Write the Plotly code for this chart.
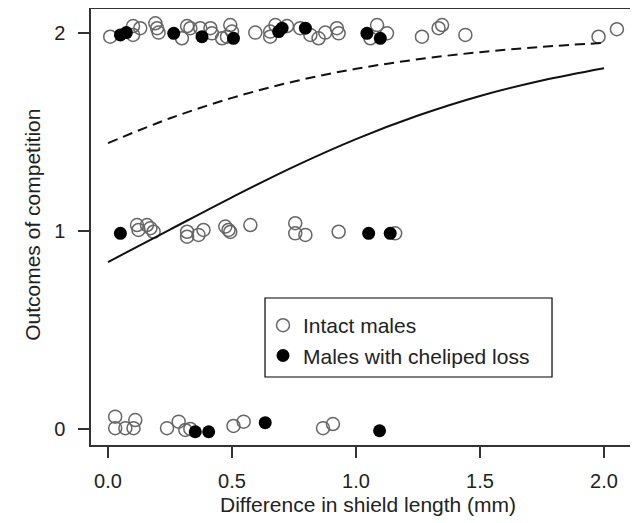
import plotly.graph_objects as go

# Observed outcomes (0, 1, 2) vs difference in shield length, with slight vertical jitter
intact_x = [0.009, 0.101, 0.130, 0.101, 0.198, 0.204, 0.191, 0.298, 0.319, 0.332,
            0.372, 0.413, 0.419, 0.460, 0.493, 0.500, 0.480, 0.594, 0.654, 0.675,
            0.722, 0.654, 0.775, 0.816, 0.849, 0.876, 0.923, 0.930, 1.085, 1.125,
            1.058, 1.266, 1.333, 1.347, 1.441, 1.978, 2.052,
            0.117, 0.123, 0.157, 0.171, 0.184, 0.319, 0.319, 0.365, 0.385, 0.473,
            0.486, 0.493, 0.574, 0.755, 0.755, 0.796, 0.930, 1.158,
            0.029, 0.029, 0.070, 0.103, 0.110, 0.238, 0.285, 0.312, 0.332, 0.506,
            0.547, 0.867, 0.907]
intact_y = [1.981, 2.035, 2.024, 1.990, 2.024, 2.002, 2.049, 1.973, 2.035, 2.024,
            2.024, 2.024, 1.998, 1.973, 2.040, 2.007, 1.981, 2.002, 2.007, 2.040,
            2.035, 1.981, 2.024, 1.990, 1.973, 2.002, 2.024, 1.998, 2.040, 1.998,
            1.973, 1.981, 2.024, 2.040, 1.990, 1.981, 2.019,
            1.030, 1.005, 1.030, 1.014, 0.996, 0.996, 0.971, 0.980, 1.005, 1.022,
            1.005, 0.995, 1.030, 1.039, 0.988, 0.980, 0.996, 0.988,
            0.062, 0.004, 0.004, 0.004, 0.045, 0.004, 0.037, -0.005, 0.000, 0.015,
            0.037, 0.004, 0.025]

loss_x = [0.050, 0.074, 0.265, 0.379, 0.506, 0.688, 0.702, 0.796, 1.044, 1.098,
          0.050, 1.051, 1.138,
          0.352, 0.406, 0.634, 1.095]
loss_y = [1.990, 2.002, 1.998, 1.981, 1.973, 2.007, 2.024, 2.024, 1.998, 1.973,
          0.988, 0.988, 0.988,
          -0.014, -0.014, 0.032, -0.009]

# Fitted curves
curve_x = [0.0, 0.25, 0.5, 0.75, 1.0, 1.25, 1.5, 1.75, 2.0]
intact_fit = [0.843, 1.007, 1.170, 1.325, 1.464, 1.583, 1.682, 1.760, 1.822]
loss_fit = [1.444, 1.569, 1.672, 1.755, 1.819, 1.867, 1.903, 1.930, 1.950]

x_ticks = [0.0, 0.5, 1.0, 1.5, 2.0]
y_ticks = [0, 1, 2]

FONT = "Liberation Sans, Arial, Helvetica, sans-serif"
AXIS = "#333333"
TEXT = "#222222"

fig = go.Figure()

fig.add_trace(go.Scatter(
    x=intact_x, y=intact_y, mode="markers", name="Intact males",
    legendgroup="a",
    marker=dict(symbol="circle-open", size=13, color="#666666", line=dict(width=1.5)),
))
fig.add_trace(go.Scatter(
    x=loss_x, y=loss_y, mode="markers", name="Males with cheliped loss",
    legendgroup="b",
    marker=dict(symbol="circle", size=13, color="black"),
))
fig.add_trace(go.Scatter(
    x=curve_x, y=intact_fit, mode="lines", showlegend=False,
    line=dict(color="#111111", width=2, shape="spline"),
))
fig.add_trace(go.Scatter(
    x=curve_x, y=loss_fit, mode="lines", showlegend=False,
    line=dict(color="#111111", width=2, dash="10px,6px", shape="spline"),
))

axis_common = dict(
    showline=True, mirror=True, linecolor=AXIS, linewidth=1.5,
    ticks="outside", ticklen=11, tickwidth=1.5, tickcolor=AXIS,
    showgrid=False, zeroline=False, automargin=False,
    tickfont=dict(size=20, color=TEXT),
)

fig.update_xaxes(
    range=[-0.0685, 2.129], tickvals=x_ticks, ticktext=[f"{v:.1f}" for v in x_ticks],
    ticklabelstandoff=6,
    **axis_common,
)
fig.update_yaxes(
    range=[-0.081, 2.121], tickvals=y_ticks, ticktext=[str(v) for v in y_ticks],
    ticklabelstandoff=9,
    **axis_common,
)

# axis titles placed as annotations for exact positioning
fig.add_annotation(text="Difference in shield length (mm)", xref="paper", yref="paper",
                   x=0.508, y=-0.1376, xanchor="center", yanchor="middle",
                   showarrow=False, font=dict(size=21, color=TEXT))
fig.add_annotation(text="Outcomes of competition", xref="paper", yref="paper",
                   x=-0.1064, y=0.505, xanchor="center", yanchor="middle",
                   textangle=-90, showarrow=False, font=dict(size=21, color=TEXT))

# legend frame drawn as a paper-space box, as in the original figure
fig.add_shape(type="rect", xref="paper", yref="paper",
              x0=0.3193, x1=0.8459, y0=0.156, y1=0.3372,
              line=dict(color="black", width=1.2), fillcolor="white", layer="below")

# the page body has an 8px margin, so the figure is sized to fit the window
fig.update_layout(
    width=630, height=515,
    margin=dict(l=83, r=2, t=1, b=78),
    plot_bgcolor="white", paper_bgcolor="white",
    font=dict(family=FONT, color=TEXT),
    legend=dict(
        x=0.3156, y=0.321, xanchor="left", yanchor="top",
        borderwidth=0, bgcolor="rgba(0,0,0,0)",
        font=dict(size=21, color=TEXT),
        tracegroupgap=0,
    ),
)

fig.write_html("out.html")
